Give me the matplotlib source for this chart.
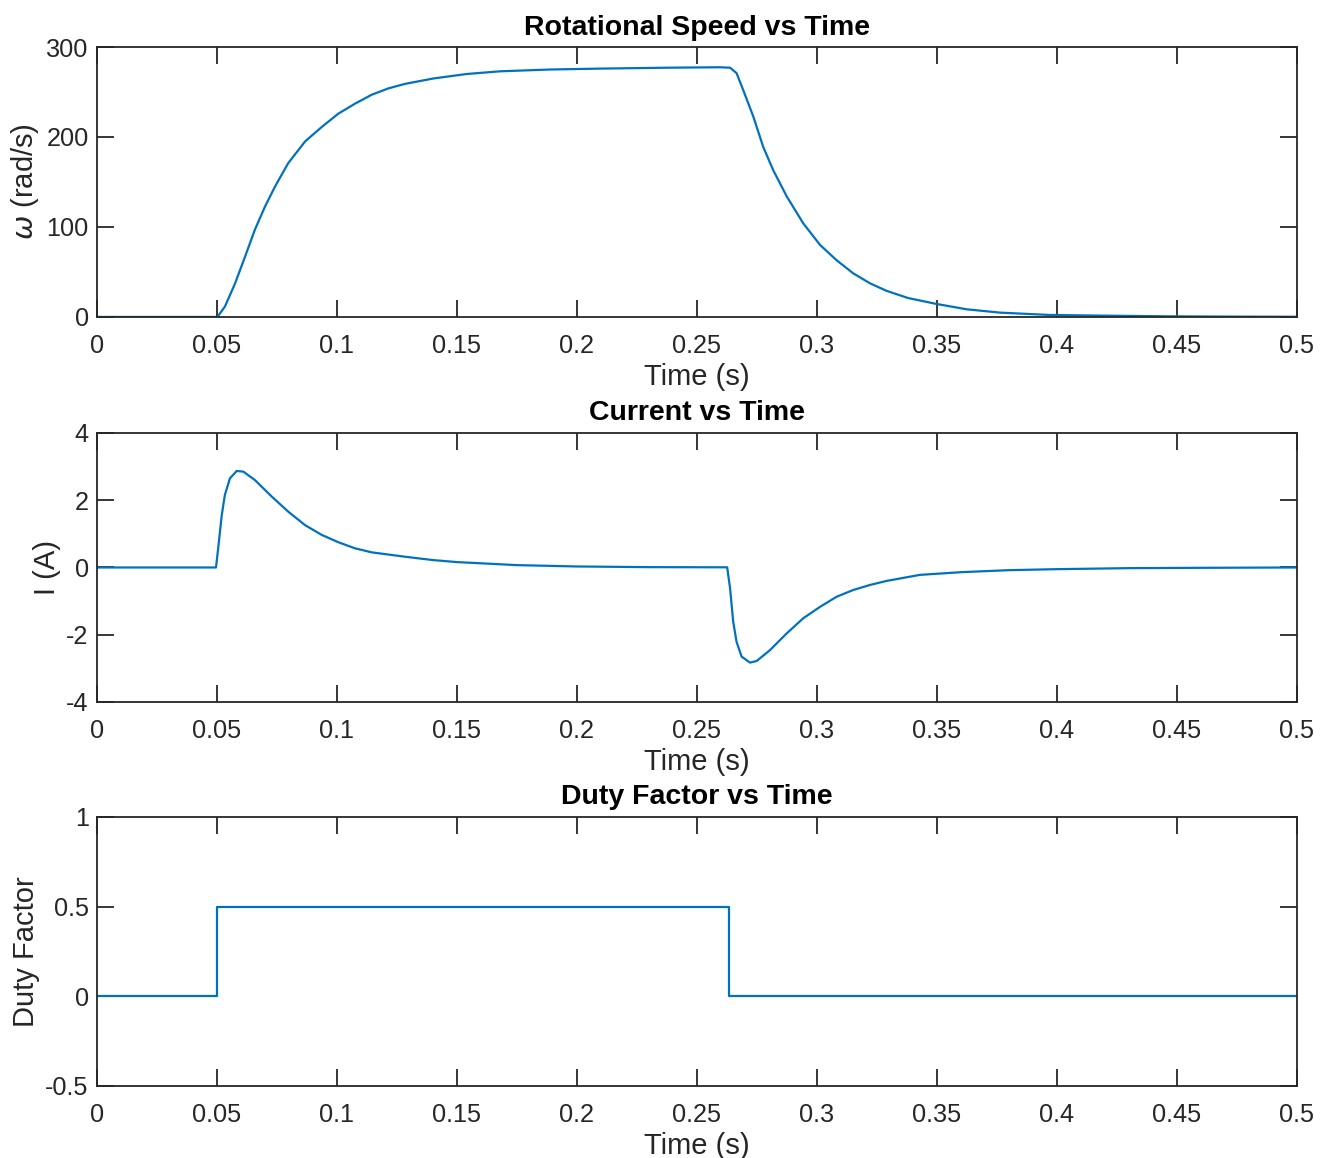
import numpy as np
import matplotlib
matplotlib.use("Agg")
import matplotlib.pyplot as plt

plt.rcParams['font.family'] = ['Liberation Sans', 'DejaVu Sans']

# values
t_speed = [0, 0.05, 0.0503, 0.0533, 0.0575, 0.0617, 0.0658, 0.07, 0.0742, 0.0797,
           0.0867, 0.0936, 0.1006, 0.1075, 0.1145, 0.1214, 0.1283, 0.1401, 0.154,
           0.168, 0.1888, 0.2096, 0.2374, 0.2596, 0.2638, 0.2665, 0.2693, 0.2735,
           0.2776, 0.2818, 0.2874, 0.2943, 0.3013, 0.3082, 0.3151, 0.3221, 0.329,
           0.3380, 0.3499, 0.3624, 0.3763, 0.397, 0.418, 0.4457, 0.47, 0.5]
w_speed = [0, 0, 0.4, 11.5, 37, 67, 97, 122.6, 145, 171,
           195, 211, 226, 237, 247, 254, 259, 265, 270,
           273, 275, 276, 277, 277.5, 277, 271, 252, 222.6,
           189, 163, 134, 104, 80, 63, 48.5, 37.4, 29,
           21, 14.4, 8.5, 4.8, 2.2, 1.5, 0.7, 0.4, 0.2]

t_cur = [0, 0.0496, 0.0505, 0.052, 0.0533, 0.0554, 0.0582, 0.061, 0.0658, 0.0728,
         0.0797, 0.0867, 0.0936, 0.1006, 0.1075, 0.1145, 0.1283, 0.14, 0.15,
         0.175, 0.2, 0.23, 0.2626, 0.2638, 0.2651, 0.2665, 0.2686, 0.2721, 0.2749,
         0.2804, 0.2874, 0.2943, 0.3013, 0.3082, 0.3151, 0.3221, 0.329, 0.3429,
         0.36, 0.38, 0.4, 0.43, 0.46, 0.5]
i_cur = [0, 0, 0.57, 1.56, 2.16, 2.65, 2.87, 2.85, 2.6, 2.11,
         1.66, 1.26, 0.97, 0.75, 0.57, 0.45, 0.32, 0.22, 0.16,
         0.07, 0.03, 0.01, 0.005, -0.62, -1.61, -2.21, -2.65, -2.83, -2.78,
         -2.46, -1.96, -1.51, -1.17, -0.87, -0.67, -0.52, -0.40, -0.22,
         -0.14, -0.08, -0.05, -0.02, -0.01, 0]

t_duty = [0, 0.05, 0.05, 0.2635, 0.2635, 0.5]
d_duty = [0, 0, 0.5, 0.5, 0, 0]

xticks = [0, 0.05, 0.1, 0.15, 0.2, 0.25, 0.3, 0.35, 0.4, 0.45, 0.5]
xticklabels = ['0', '0.05', '0.1', '0.15', '0.2', '0.25', '0.3', '0.35', '0.4', '0.45', '0.5']

line_c = '#0072BD'
ax_c = '#262626'
fs_tick = 18.2
fs_lab = 21
fs_title = 20.5

fig = plt.figure(figsize=(13.23, 11.58), dpi=100)
L, W = 0.0733, 0.907
axes = [fig.add_axes([L, 0.7263, W, 0.2331]),
        fig.add_axes([L, 0.3938, W, 0.2323]),
        fig.add_axes([L, 0.0622, W, 0.2323])]

panels = [
    (t_speed, w_speed, 'Rotational Speed vs Time', r'$\omega$ (rad/s)', (0, 300), [0, 100, 200, 300], ['0', '100', '200', '300']),
    (t_cur, i_cur, 'Current vs Time', 'I (A)', (-4, 4), [-4, -2, 0, 2, 4], ['-4', '-2', '0', '2', '4']),
    (t_duty, d_duty, 'Duty Factor vs Time', 'Duty Factor', (-0.5, 1), [-0.5, 0, 0.5, 1], ['-0.5', '0', '0.5', '1']),
]

for ax, (x, y, title, ylab, ylim, yt, ytl) in zip(axes, panels):
    ax.plot(x, y, color=line_c, lw=1.6)
    ax.set_xlim(0, 0.5)
    ax.set_ylim(*ylim)
    ax.set_xticks(xticks)
    ax.set_xticklabels(xticklabels)
    ax.set_yticks(yt)
    ax.set_yticklabels(ytl)
    ax.tick_params(direction='in', length=12, width=1.3, colors=ax_c, labelsize=fs_tick,
                   top=True, right=True)
    ax.tick_params(axis='x', pad=12)
    ax.tick_params(axis='y', pad=6)
    for s in ax.spines.values():
        s.set_linewidth(1.3)
        s.set_color(ax_c)
    ax.set_title(title, fontsize=fs_title, fontweight='bold', color='black', pad=9)
    ax.set_xlabel('Time (s)', fontsize=fs_lab, color=ax_c, labelpad=4)
    ax.set_ylabel(ylab, fontsize=fs_lab, color=ax_c, labelpad=4)

fig.savefig('out.png', dpi=100)
